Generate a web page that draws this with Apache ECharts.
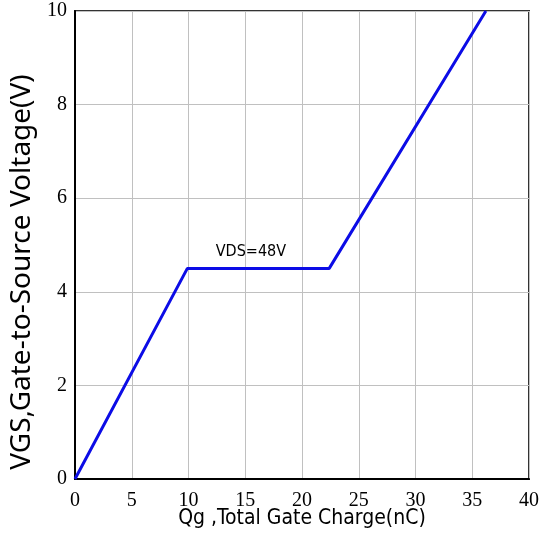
<!DOCTYPE html>
<html><head><meta charset="utf-8">
<script src="https://cdn.jsdelivr.net/npm/echarts@6/dist/echarts.min.js"></script>
<style>html,body{margin:0;padding:0;background:#fff}#c{width:549px;height:539px}</style>
</head><body><div id="c"></div>
<script>
const qg = [0, 9.9, 22.4, 36.2];
const vgs = [0, 4.5, 4.5, 10];
const xTicks = [0, 5, 10, 15, 20, 25, 30, 35, 40];
const yTicks = [0, 2, 4, 6, 8, 10];
const seriesName = 'VDS=48V';
const xName = 'Qg ,Total Gate Charge(nC)';
const yName = 'VGS,Gate-to-Source Voltage(V)';

const chart = echarts.init(document.getElementById('c'));
const tickFont = {fontFamily: 'Liberation Serif', fontSize: 20, color: '#000'};
const narrowFont = "'Liberation Sans Narrow','DejaVu Sans Condensed',sans-serif";
chart.setOption({
  animation: false,
  grid: {left: 75, right: 20, top: 11, bottom: 60, show: true, borderColor: '#333', borderWidth: 2, outerBoundsMode: 'none', containLabel: false},
  xAxis: {
    type: 'value', min: xTicks[0], max: xTicks[xTicks.length-1], interval: 5,
    name: xName, nameLocation: 'middle', nameGap: 29, nameMoveOverlap: false,
    nameTextStyle: {fontFamily: narrowFont, fontSize: 21, color: '#000'},
    axisLine: {onZero: false, lineStyle: {color: '#000', width: 2}},
    axisTick: {show: false},
    axisLabel: Object.assign({margin: 12}, tickFont),
    splitLine: {lineStyle: {color: '#c0c0c0', width: 1}}
  },
  yAxis: {
    type: 'value', min: yTicks[0], max: yTicks[yTicks.length-1], interval: 2,
    name: yName, nameLocation: 'middle', nameGap: 36,
    nameTextStyle: {fontFamily: "'Noto Sans','Open Sans',sans-serif", fontSize: 28, color: '#000', padding: [0, 54, 0, 0]},
    axisLine: {onZero: false, lineStyle: {color: '#000', width: 2}},
    axisTick: {show: false},
    axisLabel: Object.assign({margin: 8}, tickFont),
    splitLine: {lineStyle: {color: '#c0c0c0', width: 1}}
  },
  series: [{
    type: 'line', name: seriesName,
    data: qg.map((x, i) => [x, vgs[i]]),
    showSymbol: false, symbol: 'none',
    lineStyle: {color: '#0c0ce6', width: 3},
    markPoint: {
      symbol: 'rect', symbolSize: 0,
      data: [{coord: [15.5, 4.85], value: seriesName}],
      label: {show: true, formatter: seriesName, fontFamily: narrowFont, fontSize: 16, color: '#000', position: 'inside'}
    }
  }]
});
</script></body></html>
